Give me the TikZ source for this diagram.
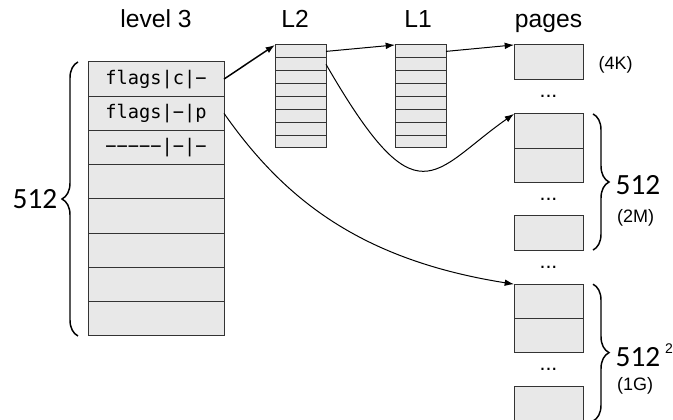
\documentclass[tikz,border=0pt]{standalone}
\usepackage{fontspec}
\setmainfont{Liberation Sans}
\setmonofont{DejaVu Sans Mono}
\newfontfamily\numfont{Carlito}
\usetikzlibrary{arrows.meta,positioning,calc,decorations.pathreplacing}

\begin{document}
\begin{tikzpicture}[x=0.75pt,y=0.75pt,>={Latex[length=7pt,width=5pt]},
  cell/.style={draw=black!80,fill=black!9,line width=0.75pt,inner sep=0pt,outer sep=0pt},
  l3row/.style={cell,minimum width=102pt,minimum height=25.69pt,font=\ttfamily\fontsize{14}{16}\selectfont},
  lrow/.style={cell,minimum width=38.25pt,minimum height=9.66pt},
  page/.style={cell,minimum width=51.75pt,minimum height=25.6pt},
  title/.style={anchor=base,font=\fontsize{18.5}{22}\selectfont},
  size/.style={font=\fontsize{13.5}{16}\selectfont},
  count/.style={font=\numfont\fontsize{22}{26}\selectfont},
  dots/.style={font=\fontsize{16}{18}\selectfont,inner sep=0pt},
  brace/.style={decorate,decoration={brace,amplitude=12pt},line width=1.1pt}]
\useasboundingbox (0,0) rectangle (673,420);

%Titles
\node[title] (tl3) at (156,392) {level 3};
\node[title] (tl2) at (295,392) {L2};
\node[title] (tl1) at (418,392) {L1};
\node[title] (tpg) at (548.5,392) {pages};

%Level 3 table
\node[l3row] (l3-1) at (156,340.9) {flags|c|−};
\node[l3row,below=0pt of l3-1] (l3-2) {flags|−|p};
\node[l3row,below=0pt of l3-2] (l3-3) {−−−−−|−|−};
\foreach \i [remember=\i as \j (initially 3)] in {4,...,8}
\node[l3row,below=0pt of l3-\j] (l3-\i) {};

%L2 and L1 tables
\node[lrow] (l2-1) at (300.5,368.6) {};
\node[lrow] (l1-1) at (420.5,368.6) {};
\foreach \i [remember=\i as \j (initially 1)] in {2,...,8}
{
\node[lrow,below=0pt of l2-\j] (l2-\i) {};
\node[lrow,below=0pt of l1-\j] (l1-\i) {};
}

%Pages
\node[page] (p1) at (548.5,358) {};
\node[page] (p2a) at (548.5,289) {};
\node[page,below=0pt of p2a] (p2b) {};
\node[page] (p2c) at (548.5,187) {};
\node[page] (p3a) at (548.5,118.75) {};
\node[page,below=0pt of p3a] (p3b) {};
\node[page] (p3c) at (548.5,16) {};
\node[dots] (d1) at ($(p1.south)!0.5!(p2a.north)$) {...};
\node[dots] (d2) at ($(p2b.south)!0.5!(p2c.north)$) {...};
\node[dots] (d3) at ($(p2c.south)!0.5!(p3a.north)$) {...};
\node[dots] (d4) at ($(p3b.south)!0.5!(p3c.north)$) {...};

%Sizes
\node[size] (s4k) at (615.5,355.5) {(4K)};
\draw[brace] ([xshift=-7.5pt]l3-8.south west) -- ([xshift=-7.5pt]l3-1.north west);
\node[count] (n3) at (35,221) {512};
\draw[brace] ([xshift=7.5pt]p2a.north east) -- ([xshift=7.5pt]p2c.south east);
\node[count] (n2) at (638,235) {512};
\node[size] (s2m) at (635.5,202.5) {(2M)};
\draw[brace] ([xshift=7.5pt]p3a.north east) -- ([xshift=7.5pt]p3c.south east);
\node[count] (n1) at (638,63) {512};
\node[font=\fontsize{10.5}{12}\selectfont] (sq) at (669,71) {2};
\node[size] (s1g) at (635,34) {(1G)};

%Pointers
\draw[->,line width=1.1pt] (l3-1.east) -- (l2-1.north west);
\draw[->,line width=0.75pt] (l2-1.east) -- (l1-1.north west);
\draw[->,line width=0.75pt] (l1-1.east) -- (p1.north west);
\draw[->,line width=0.75pt] (l2-2.east) .. controls +(-60:185) and +(215:100) .. (p2a.north west);
\draw[->,line width=0.75pt] (l3-2.east) .. controls +(-55:105) and +(171:155) .. (p3a.north west);

\end{tikzpicture}
\end{document}
